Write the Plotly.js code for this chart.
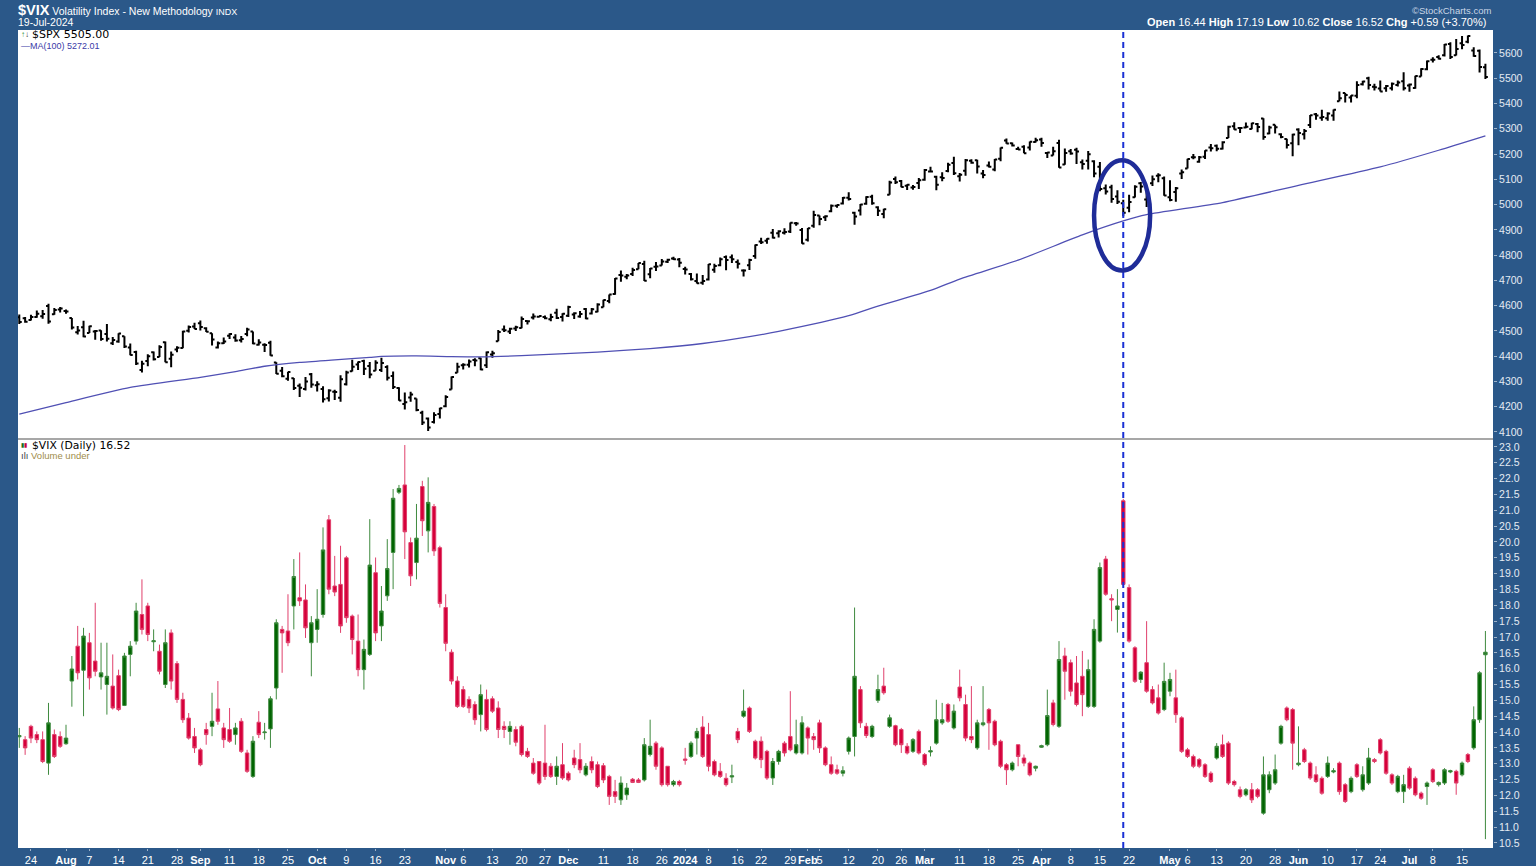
<!DOCTYPE html>
<html><head><meta charset="utf-8">
<script src="https://cdn.plot.ly/plotly-3.0.1.min.js"></script>
<style>html,body{margin:0;padding:0;background:#2b5889;}#chart{width:1536px;height:866px;}</style>
</head><body><div id="chart"></div>
<script>
// ---- calendar (trading days) ----
const firstDay = '2023-07-20';
const lastDay = '2024-07-19';
const holidays = ['2023-09-04','2023-11-23','2023-12-25','2024-01-01','2024-01-15','2024-02-19','2024-03-29','2024-05-27','2024-06-19','2024-07-04'];
function tradingDays(){const out=[];const d=new Date(firstDay+'T00:00:00Z');const end=new Date(lastDay+'T00:00:00Z');
 while(d<=end){const wd=d.getUTCDay();const s=d.toISOString().slice(0,10);if(wd!==0&&wd!==6&&holidays.indexOf(s)<0)out.push(s);d.setUTCDate(d.getUTCDate()+1);}return out;}
const dates = tradingDays();

// ---- x tick labels ----
const tickDates = ['2023-07-24','2023-08-01','2023-08-07','2023-08-14','2023-08-21','2023-08-28','2023-09-01','2023-09-11','2023-09-18','2023-09-25','2023-10-02','2023-10-09','2023-10-16','2023-10-23','2023-11-01','2023-11-06','2023-11-13','2023-11-20','2023-11-27','2023-12-01','2023-12-11','2023-12-18','2023-12-26','2024-01-02','2024-01-08','2024-01-16','2024-01-22','2024-01-29','2024-02-01','2024-02-05','2024-02-12','2024-02-20','2024-02-26','2024-03-01','2024-03-11','2024-03-18','2024-03-25','2024-04-01','2024-04-08','2024-04-15','2024-04-22','2024-05-01','2024-05-06','2024-05-13','2024-05-20','2024-05-28','2024-06-03','2024-06-10','2024-06-17','2024-06-24','2024-07-01','2024-07-08','2024-07-15'];
const tickLabels = ['24','<b>Aug</b>','7','14','21','28','<b>Sep</b>','11','18','25','<b>Oct</b>','9','16','23','<b>Nov</b>','6','13','20','27','<b>Dec</b>','11','18','26','<b>2024</b>','8','16','22','29','<b>Feb</b>','5','12','20','26','<b>Mar</b>','11','18','25','<b>Apr</b>','8','15','22','<b>May</b>','6','13','20','28','<b>Jun</b>','10','17','24','<b>Jul</b>','8','15'];
const spxTicks = [4100,4200,4300,4400,4500,4600,4700,4800,4900,5000,5100,5200,5300,5400,5500,5600];

// ---- $SPX daily OHLC ----
const spxOpen = [
4554.4,4550.2,4543.4,4555.2,4558.0,4598.3,4565.8,4584.8,
4578.8,4550.9,4494.3,4514.0,4491.6,4498.0,4501.6,4487.2,4450.7,4458.1,4478.9,4433.8,4416.3,4344.9,4380.3,4415.3,4396.4,4455.2,4389.4,4426.0,4432.7,4500.3,4517.0,
4530.6,4510.1,4490.4,4434.6,4451.3,4481.0,4473.3,4462.7,4487.8,4498.0,4445.1,4445.4,4452.8,4374.4,4341.7,4310.6,4312.9,4282.6,4269.7,4328.2,
4284.5,4269.8,4233.8,4259.3,4234.8,4289.0,4339.8,4366.6,4380.9,4360.5,4342.4,4345.2,4357.4,4321.4,4273.9,4210.4,4235.8,4232.4,4176.0,4152.9,4139.4,4171.3,
4201.3,4268.3,4334.2,4364.3,4366.2,4384.4,4391.4,4364.2,4406.7,4459.0,4505.3,4497.1,4509.6,4511.7,4538.8,4553.0,4555.8,4554.9,4545.6,4571.8,4554.9,
4559.4,4564.4,4557.3,4586.2,4568.8,4576.2,4593.4,4618.3,4646.2,4721.0,4714.2,4725.6,4743.7,4764.7,4724.3,4753.9,4758.9,4773.5,4786.4,4782.9,
4745.2,4725.1,4697.4,4690.6,4703.7,4741.9,4759.9,4792.1,4791.2,4772.4,4739.1,4760.1,4796.3,4853.4,4856.8,4888.6,4886.7,4888.9,4893.0,4925.9,4899.2,
4861.1,4916.1,4957.2,4950.2,4973.1,4995.2,5004.2,5026.8,4967.9,4976.4,5003.1,5031.1,4989.3,4963.0,5038.8,5100.9,5093.0,5074.6,5067.2,5085.4,
5098.5,5131.0,5110.5,5108.0,5132.4,5164.5,5112.0,5134.3,5173.5,5175.1,5123.3,5154.8,5139.1,5181.7,5253.4,5242.5,5219.5,5228.9,5226.3,5248.0,
5258.0,5204.3,5194.4,5244.1,5159.0,5211.4,5217.0,5167.9,5173.0,5171.5,5149.7,5064.6,5069.0,5031.5,5005.4,4987.3,5028.9,5084.7,5019.9,5084.2,5114.1,5103.8,
5029.0,5049.3,5122.8,5142.4,5187.2,5169.0,5189.0,5225.5,5233.1,5221.1,5263.3,5310.1,5303.1,5305.4,5298.7,5319.3,5340.3,5281.5,5315.9,5278.7,5259.8,5243.2,
5297.2,5278.2,5314.5,5357.8,5343.8,5341.2,5353.0,5409.1,5441.9,5424.1,5431.1,5476.2,5500.0,5466.8,5459.6,5460.7,5460.7,5473.6,5488.5,
5471.1,5461.8,5507.4,5536.0,5572.8,5584.2,5591.3,5635.2,5590.8,5638.2,5644.1,5610.2,5608.6,5543.4];
const spxHigh = [
4564.7,4555.0,4563.4,4580.6,4582.5,4607.1,4590.2,4594.2,
4584.6,4550.9,4519.5,4540.3,4519.8,4503.3,4502.4,4527.4,4476.2,4490.3,4478.9,4450.0,4421.2,4381.8,4407.6,4418.6,4443.2,4458.3,4418.5,4439.6,4500.1,4521.7,4532.3,
4541.3,4514.3,4490.4,4457.8,4473.5,4490.8,4487.1,4479.4,4512.0,4498.0,4466.4,4451.1,4461.0,4375.7,4357.4,4338.5,4313.0,4292.1,4317.3,4333.1,
4300.6,4281.2,4268.5,4267.1,4324.1,4341.7,4385.5,4378.6,4385.9,4377.1,4383.3,4393.6,4364.2,4339.5,4276.6,4255.8,4259.4,4232.4,4183.6,4156.7,4177.5,4195.6,
4245.6,4319.7,4373.6,4372.2,4386.3,4391.2,4393.4,4418.0,4421.8,4503.6,4521.2,4512.0,4520.1,4557.1,4542.1,4568.4,4560.3,4560.5,4568.1,4587.6,4569.9,
4599.4,4574.1,4578.6,4590.7,4590.9,4609.2,4623.7,4643.9,4709.7,4738.6,4725.5,4749.5,4768.7,4778.0,4748.7,4772.9,4784.7,4785.4,4793.3,4788.4,
4754.3,4729.3,4726.8,4721.5,4764.5,4765.5,4790.8,4798.5,4802.4,4782.3,4744.2,4785.8,4842.1,4868.4,4866.5,4903.7,4898.2,4906.7,4929.3,4931.1,4906.8,
4907.0,4975.3,4957.2,4957.8,4999.9,5000.4,5030.1,5048.4,4971.3,5002.5,5032.7,5038.7,4993.6,4983.2,5094.4,5111.1,5097.7,5080.7,5077.4,5105.0,
5140.3,5149.7,5114.5,5128.0,5165.6,5189.3,5124.7,5179.9,5179.1,5176.9,5136.9,5170.0,5180.3,5226.2,5261.1,5246.1,5229.1,5235.2,5249.3,5264.9,
5264.0,5208.3,5228.8,5256.6,5222.2,5219.6,5224.8,5178.4,5211.8,5175.0,5168.4,5079.8,5078.0,5056.7,5019.0,5038.8,5076.1,5089.5,5057.8,5114.6,5123.5,5110.8,
5096.1,5070.0,5139.1,5181.0,5200.2,5192.0,5215.3,5239.7,5237.3,5250.4,5311.8,5325.5,5305.4,5325.3,5324.3,5323.2,5341.9,5311.6,5315.9,5282.3,5260.2,5280.3,
5302.1,5298.8,5354.2,5362.4,5375.1,5365.8,5375.9,5447.3,5441.9,5432.4,5488.5,5490.4,5505.5,5478.3,5490.7,5472.9,5483.1,5490.8,5523.6,
5479.6,5509.7,5539.3,5570.3,5583.1,5590.8,5635.4,5642.5,5655.6,5666.9,5669.7,5622.5,5614.1,5557.5];
const spxLow = [
4527.6,4532.0,4541.3,4552.4,4547.6,4528.6,4564.0,4573.1,
4567.5,4505.8,4485.5,4474.5,4491.2,4464.4,4461.3,4457.9,4444.0,4453.4,4432.2,4403.6,4364.8,4335.3,4360.3,4382.8,4396.4,4375.6,4356.3,4415.0,4431.7,4493.6,4507.4,
4501.4,4496.0,4442.4,4430.5,4448.4,4467.9,4456.8,4453.5,4478.7,4447.2,4442.1,4416.6,4401.4,4329.2,4316.5,4302.7,4266.0,4238.6,4264.4,4274.9,
4260.2,4216.5,4220.5,4225.9,4219.6,4283.8,4339.6,4345.3,4325.4,4312.0,4342.4,4337.5,4303.8,4269.7,4223.0,4189.2,4219.4,4181.4,4127.9,4103.8,4132.9,4153.1,
4197.7,4268.3,4334.2,4347.5,4355.4,4359.8,4343.9,4353.3,4393.8,4459.0,4495.3,4487.8,4499.7,4510.4,4525.5,4545.1,4552.8,4545.9,4537.9,4547.2,4537.2,
4554.7,4546.7,4551.7,4546.5,4565.2,4574.1,4593.4,4609.0,4643.2,4694.0,4704.7,4717.4,4743.7,4697.8,4708.4,4736.8,4758.9,4768.9,4781.0,4752.0,
4722.7,4699.7,4687.5,4682.1,4699.8,4730.4,4756.2,4739.6,4769.0,4747.1,4714.8,4740.6,4785.9,4844.1,4844.4,4865.9,4869.3,4881.5,4887.4,4916.2,4845.2,
4853.5,4908.0,4918.1,4934.9,4969.1,4987.1,5000.3,5016.3,4920.3,4956.6,4999.4,4999.5,4955.0,4946.0,5038.8,5081.5,5068.9,5057.3,5058.4,5061.9,
5094.2,5127.2,5056.8,5092.2,5128.2,5117.5,5091.1,5114.5,5161.8,5123.3,5104.4,5146.6,5131.6,5171.6,5240.7,5229.9,5216.1,5203.4,5213.9,5245.8,
5229.2,5184.1,5194.4,5146.1,5157.2,5197.4,5160.8,5138.7,5138.8,5107.9,5052.5,5039.8,5007.3,5001.9,4953.6,4969.4,5028.0,5047.0,4990.6,5073.1,5088.7,5035.3,
5013.5,5011.1,5101.2,5142.4,5179.0,5165.9,5180.4,5209.7,5211.2,5218.0,5263.3,5296.2,5283.6,5302.4,5297.9,5286.0,5256.9,5278.4,5280.9,5262.7,5222.1,5191.7,
5234.3,5257.6,5303.1,5335.4,5331.3,5331.5,5331.3,5409.1,5403.8,5403.8,5420.4,5471.3,5455.6,5452.0,5447.6,5446.6,5451.9,5467.5,5451.1,
5446.5,5458.4,5507.4,5531.6,5562.5,5574.6,5586.4,5576.5,5590.4,5614.8,5639.0,5584.8,5522.8,5497.0];
const spxClose = [
4534.9,4536.3,4554.6,4567.5,4566.8,4537.4,4582.2,4589.0,
4576.7,4513.4,4501.9,4478.0,4518.4,4499.4,4467.7,4468.8,4464.1,4489.7,4437.9,4404.3,4370.4,4369.7,4399.8,4387.6,4436.0,4376.3,4405.7,4433.3,4497.6,4514.9,4507.7,
4515.8,4496.8,4465.5,4451.1,4457.5,4487.5,4461.9,4467.4,4505.1,4450.3,4453.5,4444.0,4402.2,4330.0,4320.1,4337.4,4273.5,4274.5,4299.7,4288.1,
4288.4,4229.5,4263.8,4258.2,4308.5,4335.7,4358.2,4377.0,4349.6,4327.8,4373.6,4373.2,4314.6,4278.0,4224.2,4217.0,4247.7,4186.8,4137.2,4117.4,4166.8,4193.8,
4237.9,4317.8,4358.3,4366.0,4378.4,4382.8,4347.4,4415.2,4411.6,4495.7,4502.9,4508.2,4514.0,4547.4,4538.2,4556.6,4559.3,4550.4,4554.9,4550.6,4567.8,
4594.6,4569.8,4567.2,4549.3,4585.6,4604.4,4622.4,4643.7,4707.1,4719.6,4719.2,4740.6,4768.4,4698.4,4746.8,4754.6,4774.8,4781.6,4783.4,4769.8,
4742.8,4704.8,4688.7,4697.2,4763.5,4756.5,4783.5,4780.2,4783.8,4766.0,4739.2,4780.9,4839.8,4850.4,4864.6,4868.6,4894.2,4891.0,4927.9,4925.0,4845.7,
4906.2,4958.6,4942.8,4954.2,4995.1,4997.9,5026.6,5021.8,4953.2,5000.6,5029.7,5005.6,4975.5,4981.8,5087.0,5088.8,5069.5,5078.2,5069.8,5096.3,
5137.1,5131.0,5078.7,5104.8,5157.4,5123.7,5117.9,5175.3,5165.3,5150.5,5117.1,5149.4,5178.5,5224.6,5241.5,5234.2,5218.2,5203.6,5248.5,5254.4,
5243.8,5205.8,5211.5,5147.2,5204.3,5202.4,5209.9,5160.6,5199.1,5123.4,5061.8,5051.4,5022.2,5011.1,4967.2,5010.6,5070.6,5071.6,5048.4,5100.0,5116.2,5035.7,
5018.4,5064.2,5127.8,5180.7,5187.7,5187.7,5214.1,5222.7,5221.4,5246.7,5308.2,5297.1,5303.3,5308.1,5321.4,5307.0,5267.8,5304.7,5306.0,5267.0,5235.5,5277.5,
5283.4,5291.3,5354.0,5353.0,5347.0,5360.8,5375.3,5421.0,5433.7,5431.6,5473.2,5487.0,5473.2,5464.6,5447.9,5469.3,5477.9,5482.9,5460.5,
5475.1,5509.0,5537.0,5567.2,5572.9,5577.0,5633.9,5584.5,5615.4,5631.2,5667.2,5588.3,5544.6,5505.0];

// ---- MA(100) of $SPX ----
const maDates = ['2023-07-20','2023-08-01','2023-08-16','2023-09-01','2023-09-12','2023-09-19','2023-09-27','2023-10-05','2023-10-13','2023-10-17','2023-10-25','2023-11-02','2023-11-09','2023-11-20','2023-12-08','2023-12-21','2024-01-05','2024-01-18','2024-01-25','2024-02-12','2024-02-20','2024-03-04','2024-03-11','2024-03-25','2024-04-10','2024-04-19','2024-04-25','2024-05-14','2024-06-03','2024-06-24','2024-07-09','2024-07-19'];
const maValues = [4170,4216,4276,4316,4339,4360,4375,4385,4395,4399,4401,4398,4397,4402,4416,4430,4450,4477,4498,4560,4598,4660,4705,4780,4880,4935,4960,5008,5076,5149,5215,5272];

// ---- $VIX daily OHLC ----
const vixOpen = [
13.85,13.76,14.18,13.92,13.76,13.02,13.92,13.86,13.63,15.61,
16.71,15.95,16.82,16.24,15.74,15.50,15.45,15.78,14.84,16.45,
16.87,17.71,17.98,16.85,16.55,15.50,17.13,16.16,15.03,14.44,
13.86,13.44,14.08,14.18,14.73,14.13,14.08,13.92,14.34,13.34,
12.60,14.31,13.98,14.10,15.39,17.24,17.19,17.98,18.24,18.17,
16.82,17.24,17.71,20.70,18.61,18.66,19.50,17.66,16.87,15.97,
16.45,19.03,17.35,18.30,19.67,21.57,21.80,19.98,19.35,21.75,
20.35,21.12,19.82,17.93,16.52,15.61,15.34,15.03,14.87,14.55,
15.03,15.05,14.76,14.18,14.02,14.08,14.18,13.39,13.02,13.07,
13.02,12.92,12.60,12.97,12.70,13.18,13.13,12.65,13.07,12.97,
12.94,12.60,12.12,11.86,12.02,12.51,12.49,12.49,13.29,13.65,
13.50,12.92,12.34,12.44,13.15,13.23,13.81,14.16,13.92,13.07,
12.76,12.54,12.58,14.02,14.50,14.76,13.71,13.71,13.39,12.55,
13.07,13.65,13.86,13.34,13.34,14.13,13.86,14.29,13.50,12.97,
12.81,12.70,13.39,13.86,15.34,14.18,13.86,15.00,15.45,14.18,
14.20,14.08,13.55,13.39,14.02,13.29,13.37,13.65,14.29,14.87,
14.13,15.42,14.87,13.86,13.50,14.23,14.71,14.34,13.71,12.97,
12.81,13.60,13.18,13.02,12.86,13.52,13.60,14.92,14.18,16.40,
16.19,15.55,15.76,14.81,14.81,16.87,19.46,18.21,17.87,21.30,
18.56,16.66,15.66,16.19,15.34,15.08,14.71,15.29,15.08,14.45,
13.44,13.23,13.13,12.97,12.70,13.18,13.60,13.65,12.44,12.18,
12.02,12.18,12.18,11.44,12.18,12.39,13.65,14.76,14.71,12.97,
13.44,13.02,12.65,12.54,12.60,12.74,13.02,12.34,12.12,12.97,
12.18,12.39,13.13,13.76,13.39,12.65,12.12,12.12,12.86,12.54,
12.07,12.28,12.81,12.34,12.39,12.74,12.76,12.65,13.29,13.50,
14.39,16.44];
const vixHigh = [
14.13,13.87,14.23,14.02,14.02,14.92,14.08,14.02,14.23,16.40,
17.35,17.29,17.13,18.08,16.82,16.82,16.45,15.97,16.50,16.87,
18.08,18.82,18.08,17.24,16.76,17.24,17.24,16.24,15.24,14.60,
14.13,13.50,14.29,15.24,15.61,14.29,14.76,14.29,14.44,13.44,
13.87,14.66,14.29,15.13,17.56,17.35,18.35,19.46,19.67,18.66,
17.66,18.51,20.46,20.85,19.56,19.88,19.56,17.71,17.71,16.92,
20.72,19.51,18.61,20.09,21.67,21.80,23.06,20.14,21.20,21.93,
22.04,21.20,19.88,18.35,16.61,15.76,15.45,15.13,14.97,15.50,
15.34,15.13,14.97,14.34,14.34,14.18,14.23,13.50,13.18,13.07,
14.23,13.02,13.23,13.65,12.76,13.44,13.65,13.02,13.23,13.07,
13.02,12.65,12.49,12.60,12.39,12.55,12.55,13.81,14.39,13.71,
13.55,12.92,12.49,12.49,13.50,13.71,14.13,14.50,14.29,13.13,
13.02,12.70,12.97,14.13,15.34,14.81,13.76,13.86,13.44,13.18,
13.44,13.71,15.29,14.39,14.50,14.18,13.97,14.39,13.55,13.23,
12.97,12.92,13.86,17.93,15.45,14.29,14.23,15.81,16.03,14.55,
14.23,14.13,13.65,13.81,14.08,13.34,13.55,15.02,14.92,14.92,
14.87,15.97,15.18,15.45,14.39,15.45,14.76,14.39,13.76,13.02,
13.07,13.60,13.29,13.07,12.94,13.60,15.34,15.02,16.87,16.66,
16.29,16.40,16.56,16.29,17.56,19.35,19.56,18.35,18.51,21.36,
18.66,16.71,15.92,17.50,15.45,15.50,16.19,15.87,15.97,14.50,
13.50,13.29,13.18,13.02,12.76,13.65,13.92,13.71,12.49,12.28,
12.23,12.39,12.23,13.23,12.76,13.29,14.23,14.81,14.76,14.18,
13.50,13.07,12.92,12.60,13.23,12.86,13.07,12.39,12.60,13.02,
12.92,13.50,13.18,13.81,13.44,12.70,12.65,12.65,12.92,12.60,
12.12,12.44,12.86,12.44,12.86,12.81,12.81,13.07,13.34,14.81,
15.92,17.19];
const vixLow = [
13.50,13.28,13.65,13.65,13.02,12.65,13.18,13.50,13.60,14.80,
15.66,14.50,15.34,15.76,15.34,14.55,14.71,14.66,14.82,15.76,
16.76,17.08,16.87,16.55,15.82,15.39,15.34,14.92,14.29,13.76,
13.34,12.92,13.60,13.87,14.23,13.50,13.66,13.60,13.34,12.71,
12.55,13.81,13.76,13.50,15.03,15.87,16.71,17.24,17.98,16.97,
15.76,16.82,17.61,18.35,18.29,17.13,17.45,16.45,15.76,15.34,
16.40,16.87,16.87,18.14,18.51,21.51,19.46,18.61,18.82,20.19,
19.67,19.56,17.93,16.55,15.50,14.76,14.76,14.60,14.23,14.02,
14.02,14.60,13.81,13.81,13.60,13.55,13.23,13.18,12.65,12.33,
12.49,12.55,12.33,12.49,12.44,12.86,12.70,12.60,12.70,12.23,
12.39,11.70,11.76,11.70,11.86,12.39,12.39,12.44,13.23,12.81,
12.28,12.28,12.28,12.28,12.97,13.18,13.29,13.18,12.76,12.60,
12.55,12.28,12.39,13.65,14.45,13.97,13.13,12.86,12.49,12.33,
12.97,13.23,13.39,13.29,13.29,13.29,13.44,13.34,12.92,12.65,
12.65,12.60,13.29,13.23,14.13,13.81,13.81,14.92,15.18,14.13,
13.55,13.34,13.29,13.34,13.29,12.92,13.23,13.60,14.23,14.29,
14.08,14.97,13.71,13.65,13.44,14.18,13.44,13.55,12.86,12.33,
12.76,12.92,12.92,12.60,12.76,13.50,13.55,14.18,14.13,15.02,
15.13,14.81,14.50,14.76,14.76,16.82,18.30,17.50,17.14,18.61,
16.82,15.55,15.55,15.24,14.87,14.55,14.66,15.13,14.29,13.34,
13.18,12.86,12.86,12.55,12.39,13.13,13.18,12.33,12.28,11.91,
11.97,11.76,11.91,11.39,12.07,12.33,13.60,14.34,12.81,12.92,
13.02,12.49,12.39,12.02,12.55,12.70,12.02,11.76,12.07,12.55,
12.12,12.33,13.02,13.29,12.65,12.33,12.07,11.76,12.18,11.97,
11.86,11.70,12.39,12.28,12.33,12.70,12.02,12.60,13.02,13.44,
14.29,10.62];
const vixClose = [
13.89,13.50,13.81,13.76,13.07,14.29,13.23,13.55,13.81,15.99,
15.87,17.03,15.71,15.92,15.87,15.76,14.76,14.71,16.40,16.71,
17.82,17.24,17.08,16.88,15.92,16.82,15.61,15.03,14.39,13.81,
13.50,12.97,13.92,14.34,14.34,13.76,13.71,14.13,13.39,12.76,
13.71,13.92,14.00,15.05,17.45,17.13,16.82,18.91,18.14,17.29,
17.45,17.56,19.75,18.51,18.42,17.35,17.61,16.92,15.97,16.61,
19.27,17.13,17.82,19.16,21.38,21.69,20.32,18.93,20.12,20.67,
21.25,19.72,18.06,16.80,15.61,14.81,14.81,14.76,14.39,15.18,
14.08,14.66,14.08,14.08,14.18,13.68,13.29,13.23,12.70,12.39,
12.60,12.60,12.92,12.55,12.49,12.97,12.81,12.92,12.81,12.28,
12.49,11.97,11.97,12.39,12.23,12.41,12.41,13.60,13.55,12.92,
12.34,12.34,12.44,12.34,13.11,13.65,14.02,13.23,12.92,12.65,
12.60,12.34,12.62,13.76,14.66,14.02,13.18,13.13,12.55,13.07,
13.39,13.34,13.44,13.60,14.29,13.81,13.76,13.50,12.97,12.70,
12.70,12.78,13.81,15.76,14.29,13.89,14.18,15.34,15.24,14.45,
13.60,13.60,13.34,13.76,13.34,12.97,13.41,14.39,14.39,14.34,
14.66,15.08,13.81,13.76,14.29,14.29,14.29,13.60,12.92,12.81,
13.02,13.23,13.02,12.65,12.92,13.57,14.52,14.24,16.29,15.92,
15.29,14.87,15.18,15.97,17.24,19.19,18.35,18.17,17.98,18.66,
16.87,15.60,15.89,15.29,14.92,14.60,15.60,15.66,14.55,13.39,
13.23,12.92,12.92,12.60,12.44,13.55,13.23,12.39,12.34,11.97,
12.18,11.86,11.97,12.65,12.65,12.81,14.18,14.39,13.65,13.02,
13.07,12.55,12.44,12.07,13.02,12.78,12.12,11.81,12.54,12.60,
12.65,13.18,13.07,13.34,12.70,12.39,12.60,12.34,12.23,12.02,
11.91,12.39,12.44,12.41,12.81,12.78,12.39,13.02,13.07,14.39,
15.87,16.52];

// ---- chart ----
const FRAME = '#2b5889';
const FONT = 'Liberation Sans, Arial, sans-serif';
const px = x => (x - 18) / 1475;          // pixel -> paper x
const py = y => (848 - y) / 818;          // pixel -> paper y

const traces = [
  {type:'ohlc', x:dates, open:spxOpen, high:spxHigh, low:spxLow, close:spxClose,
   xaxis:'x', yaxis:'y', tickwidth:0.42, hoverinfo:'skip', showlegend:false,
   increasing:{line:{color:'#000000', width:2}}, decreasing:{line:{color:'#000000', width:2}}},
  {type:'scatter', mode:'lines', x:maDates, y:maValues, xaxis:'x', yaxis:'y',
   line:{color:'#5050b4', width:1.3, shape:'spline', smoothing:0.6}, hoverinfo:'skip', showlegend:false},
  {type:'candlestick', x:dates, open:vixOpen, high:vixHigh, low:vixLow, close:vixClose,
   xaxis:'x', yaxis:'y2', whiskerwidth:0, hoverinfo:'skip', showlegend:false,
   increasing:{line:{color:'#3f8a3f', width:1}, fillcolor:'#016401'},
   decreasing:{line:{color:'#e0406c', width:1}, fillcolor:'#d5003a'}}
];

const axisFont = {family:FONT, size:10.5, color:'#e4ebf3'};
const layout = {
  width:1536, height:866,
  margin:{l:18, r:43, t:30, b:18, pad:0},
  paper_bgcolor:FRAME, plot_bgcolor:'#ffffff',
  showlegend:false, hovermode:false, boxgap:0.15,
  xaxis:{type:'category', categoryorder:'array', categoryarray:dates, range:[-0.22, 252.3],
    anchor:'y2', tickmode:'array', tickvals:tickDates, ticktext:tickLabels, tickangle:0,
    tickfont:{family:FONT, size:11, color:'#ffffff'}, showgrid:false, zeroline:false, showline:false,
    ticks:'outside', ticklen:2, tickcolor:'#9fb2c8', rangeslider:{visible:false}, fixedrange:true},
  yaxis:{domain:[0.5, 1], side:'right', range:[4072, 5691], tickmode:'array', tickvals:spxTicks,
    tickfont:axisFont, showgrid:false, zeroline:false, showline:false, ticks:'outside', ticklen:3,
    tickcolor:'#9fb2c8', fixedrange:true},
  yaxis2:{domain:[0, 0.5], side:'right', range:[10.34, 23.25], tick0:10.5, dtick:0.5, tickformat:'.1f',
    tickfont:axisFont, showgrid:false, zeroline:false, showline:false, ticks:'outside', ticklen:3,
    tickcolor:'#9fb2c8', fixedrange:true},
  shapes:[
    {type:'line', xref:'paper', yref:'paper', x0:0, x1:1, y0:0.5, y1:0.5, line:{color:'#8a8a8a', width:1.5}},
    {type:'line', xref:'x', yref:'paper', x0:'2024-04-19', x1:'2024-04-19', y0:0, y1:1,
     line:{color:'#1a30d4', width:2, dash:'6px,4px'}},
    {type:'circle', xref:'x', yref:'y', x0:184.0, x1:193.6, y0:4739, y1:5175,
     line:{color:'#1f2c98', width:4.5}}
  ],
  annotations:[
    {xref:'paper', yref:'paper', x:px(16), y:py(10), xanchor:'left', yanchor:'middle', showarrow:false,
     text:'<b><span style="font-size:14.5px">$VIX</span></b> Volatility Index - New Methodology <span style="font-size:9px">INDX</span>',
     font:{family:FONT, size:10.5, color:'#ffffff'}},
    {xref:'paper', yref:'paper', x:px(16), y:py(22), xanchor:'left', yanchor:'middle', showarrow:false,
     text:'19-Jul-2024', font:{family:FONT, size:10.5, color:'#ffffff'}},
    {xref:'paper', yref:'paper', x:px(1493), y:py(10), xanchor:'right', yanchor:'middle', showarrow:false,
     text:'©StockCharts.com', font:{family:FONT, size:9.5, color:'#c9d6e6'}},
    {xref:'paper', yref:'paper', x:px(1488), y:py(22), xanchor:'right', yanchor:'middle', showarrow:false,
     text:'<b>Open</b> 16.44 <b>High</b> 17.19 <b>Low</b> 10.62 <b>Close</b> 16.52 <b>Chg</b> +0.59 (+3.70%)',
     font:{family:FONT, size:11, color:'#ffffff'}},
    {xref:'paper', yref:'paper', x:px(19), y:py(35), xanchor:'left', yanchor:'middle', showarrow:false,
     text:'<span style="color:#2f8f2f">↑</span>↓', font:{family:FONT, size:8, color:'#333333'}},
    {xref:'paper', yref:'paper', x:px(30), y:py(35), xanchor:'left', yanchor:'middle', showarrow:false,
     text:'$SPX 5505.00', font:{family:'DejaVu Sans, sans-serif', size:11, color:'#000000'}},
    {xref:'paper', yref:'paper', x:px(19), y:py(46), xanchor:'left', yanchor:'middle', showarrow:false,
     text:'—MA(100) 5272.01', font:{family:FONT, size:9, color:'#3a3aa8'}},
    {xref:'paper', yref:'paper', x:px(19), y:py(445), xanchor:'left', yanchor:'middle', showarrow:false,
     text:'<span style="color:#1a6e1a">▮</span><span style="color:#c8003a">▮</span>', font:{family:FONT, size:6, color:'#333333'}},
    {xref:'paper', yref:'paper', x:px(30), y:py(445), xanchor:'left', yanchor:'middle', showarrow:false,
     text:'$VIX (Daily) 16.52', font:{family:'DejaVu Sans, sans-serif', size:10.8, color:'#000000'}},
    {xref:'paper', yref:'paper', x:px(19), y:py(455), xanchor:'left', yanchor:'middle', showarrow:false,
     text:'<span style="color:#444444">ılı</span> Volume under', font:{family:FONT, size:9.5, color:'#a08c4a'}}
  ]
};

Plotly.newPlot('chart', traces, layout, {staticPlot:true, displayModeBar:false});
</script></body></html>
